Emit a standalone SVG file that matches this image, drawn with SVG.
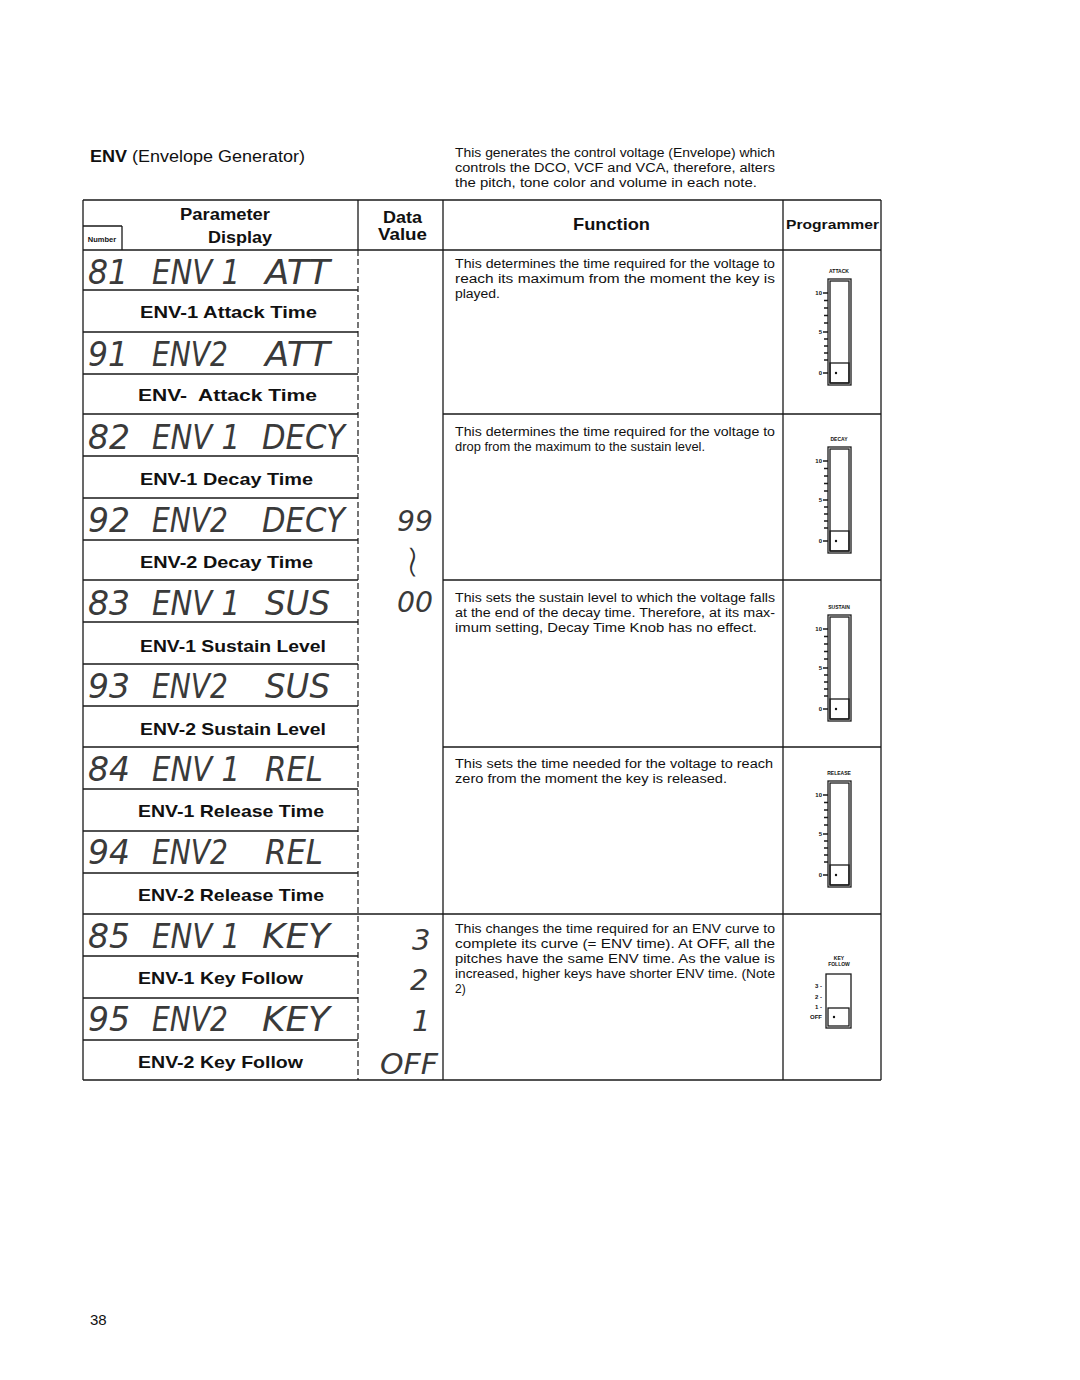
<svg xmlns="http://www.w3.org/2000/svg" width="1080" height="1380" viewBox="0 0 1080 1380">
<style>
.ln{stroke:#1a1a1a;stroke-width:1.3;fill:none}
.dash{stroke:#1a1a1a;stroke-width:1.2;stroke-dasharray:6 3;fill:none}
.hd{font-family:"Liberation Sans",Arial,sans-serif;font-weight:bold;fill:#111}
.nm{font-family:"Liberation Sans",Arial,sans-serif;font-weight:bold;font-size:17px;fill:#111}
.fn{font-family:"Liberation Sans",Arial,sans-serif;font-size:12px;fill:#111}
.seg{font-family:"DejaVu Sans",sans-serif;font-weight:200;font-style:italic;font-size:34px;fill:#3a3a3a}
.dv{font-family:"DejaVu Sans",sans-serif;font-weight:200;font-style:italic;font-size:29px;fill:#3a3a3a}
.tiny{font-family:"Liberation Sans",Arial,sans-serif;font-weight:bold;font-size:5px;fill:#111;text-anchor:middle}
.tk{font-family:"Liberation Sans",Arial,sans-serif;font-weight:bold;font-size:6px;fill:#111;text-anchor:end}
</style>
<defs>
<g id="slider">
<rect x="828" y="0" width="23" height="106" class="ln" stroke-width="2"/>
<rect x="830" y="2" width="19" height="102" class="ln" stroke-width="0.6"/>
<rect x="830" y="84" width="19" height="20" class="ln" stroke-width="1.8"/>
<circle cx="836" cy="94" r="1.2" fill="#111"/>
<path class="ln" stroke-width="0.8" d="M823 14h5M824 21.5h4M824 29h4M824 36.5h4M824 44h4M823 53h5M824 60h4M824 67h4M824 74h4M824 81h4M823 94h5"/>
<text x="822" y="16" class="tk">10</text>
<text x="822" y="55" class="tk">5</text>
<text x="822" y="96" class="tk">0</text>
</g>
</defs>
<rect width="1080" height="1380" fill="#fff"/>

<g id="title">
<text x="90" y="162" font-family="Liberation Sans,Arial,sans-serif" font-size="16" fill="#111" textLength="215" lengthAdjust="spacingAndGlyphs"><tspan font-weight="bold">ENV</tspan> (Envelope Generator)</text>
<text class="fn" font-size="11.5px"><tspan x="455" y="157" textLength="320" lengthAdjust="spacingAndGlyphs">This generates the control voltage (Envelope) which</tspan><tspan x="455" y="172" textLength="320" lengthAdjust="spacingAndGlyphs">controls the DCO, VCF and VCA, therefore, alters</tspan><tspan x="455" y="187" textLength="302" lengthAdjust="spacingAndGlyphs">the pitch, tone color and volume in each note.</tspan></text>
</g>

<g id="table-lines">
<path class="ln" d="M83 200H881M83 200V1080M443 200V1080M783 200V1080M881 200V1080M83 1080H881M83 250H881M358 200V250M83 226H122M122 226V250"/>
<path class="dash" d="M358 250V1080"/>
<path class="ln" d="M83 290H358M83 332H358M83 374H358M83 414H358M83 456H358M83 498H358M83 540H358M83 580H358M83 622H358M83 664H358M83 706H358M83 747H358M83 789H358M83 831H358M83 873H358M83 914H881M83 956H358M83 998H358M83 1040H358M443 414H881M443 580H881M443 747H881"/>
</g>

<g id="header">
<text x="180" y="220" class="hd" font-size="16" textLength="90" lengthAdjust="spacingAndGlyphs">Parameter</text>
<text x="102" y="242" class="hd" font-size="7.5" text-anchor="middle">Number</text>
<text x="208" y="243" class="hd" font-size="17" textLength="64" lengthAdjust="spacingAndGlyphs">Display</text>
<text x="383" y="223" class="hd" font-size="17" textLength="39" lengthAdjust="spacingAndGlyphs">Data</text>
<text x="378" y="240" class="hd" font-size="17" textLength="49" lengthAdjust="spacingAndGlyphs">Value</text>
<text x="573" y="230" class="hd" font-size="17" textLength="77" lengthAdjust="spacingAndGlyphs">Function</text>
<text x="786" y="229" class="hd" font-size="13.5" textLength="93" lengthAdjust="spacingAndGlyphs">Programmer</text>
</g>

<g id="param-81">
<text class="seg" x="88" y="284" textLength="40" lengthAdjust="spacingAndGlyphs">81</text>
<text class="seg" x="152" y="284" textLength="88" lengthAdjust="spacingAndGlyphs">ENV 1</text>
<text class="seg" x="265" y="284" textLength="65" lengthAdjust="spacingAndGlyphs">ATT</text>
<text x="140" y="318" class="nm" textLength="177" lengthAdjust="spacingAndGlyphs">ENV-1 Attack Time</text></g>
<g id="param-91">
<text class="seg" x="88" y="366" textLength="40" lengthAdjust="spacingAndGlyphs">91</text>
<text class="seg" x="152" y="366" textLength="76" lengthAdjust="spacingAndGlyphs">ENV2</text>
<text class="seg" x="265" y="366" textLength="65" lengthAdjust="spacingAndGlyphs">ATT</text>
<text x="138" y="401" class="nm" textLength="179" lengthAdjust="spacingAndGlyphs" xml:space="preserve">ENV-  Attack Time</text></g>
<g id="param-82">
<text class="seg" x="88" y="449" textLength="42" lengthAdjust="spacingAndGlyphs">82</text>
<text class="seg" x="152" y="449" textLength="88" lengthAdjust="spacingAndGlyphs">ENV 1</text>
<text class="seg" x="262" y="449" textLength="83" lengthAdjust="spacingAndGlyphs">DECY</text>
<text x="140" y="485" class="nm" textLength="173" lengthAdjust="spacingAndGlyphs">ENV-1 Decay Time</text></g>
<g id="param-92">
<text class="seg" x="88" y="532" textLength="42" lengthAdjust="spacingAndGlyphs">92</text>
<text class="seg" x="152" y="532" textLength="76" lengthAdjust="spacingAndGlyphs">ENV2</text>
<text class="seg" x="262" y="532" textLength="83" lengthAdjust="spacingAndGlyphs">DECY</text>
<text x="140" y="568" class="nm" textLength="173" lengthAdjust="spacingAndGlyphs">ENV-2 Decay Time</text></g>
<g id="param-83">
<text class="seg" x="88" y="615" textLength="42" lengthAdjust="spacingAndGlyphs">83</text>
<text class="seg" x="152" y="615" textLength="88" lengthAdjust="spacingAndGlyphs">ENV 1</text>
<text class="seg" x="265" y="615" textLength="65" lengthAdjust="spacingAndGlyphs">SUS</text>
<text x="140" y="652" class="nm" textLength="186" lengthAdjust="spacingAndGlyphs">ENV-1 Sustain Level</text></g>
<g id="param-93">
<text class="seg" x="88" y="698" textLength="42" lengthAdjust="spacingAndGlyphs">93</text>
<text class="seg" x="152" y="698" textLength="76" lengthAdjust="spacingAndGlyphs">ENV2</text>
<text class="seg" x="265" y="698" textLength="65" lengthAdjust="spacingAndGlyphs">SUS</text>
<text x="140" y="735" class="nm" textLength="186" lengthAdjust="spacingAndGlyphs">ENV-2 Sustain Level</text></g>
<g id="param-84">
<text class="seg" x="88" y="781" textLength="42" lengthAdjust="spacingAndGlyphs">84</text>
<text class="seg" x="152" y="781" textLength="88" lengthAdjust="spacingAndGlyphs">ENV 1</text>
<text class="seg" x="265" y="781" textLength="58" lengthAdjust="spacingAndGlyphs">REL</text>
<text x="138" y="817" class="nm" textLength="186" lengthAdjust="spacingAndGlyphs">ENV-1 Release Time</text></g>
<g id="param-94">
<text class="seg" x="88" y="864" textLength="42" lengthAdjust="spacingAndGlyphs">94</text>
<text class="seg" x="152" y="864" textLength="76" lengthAdjust="spacingAndGlyphs">ENV2</text>
<text class="seg" x="265" y="864" textLength="58" lengthAdjust="spacingAndGlyphs">REL</text>
<text x="138" y="901" class="nm" textLength="186" lengthAdjust="spacingAndGlyphs">ENV-2 Release Time</text></g>
<g id="param-85">
<text class="seg" x="88" y="948" textLength="42" lengthAdjust="spacingAndGlyphs">85</text>
<text class="seg" x="152" y="948" textLength="88" lengthAdjust="spacingAndGlyphs">ENV 1</text>
<text class="seg" x="262" y="948" textLength="68" lengthAdjust="spacingAndGlyphs">KEY</text>
<text x="138" y="984" class="nm" textLength="165" lengthAdjust="spacingAndGlyphs">ENV-1 Key Follow</text></g>
<g id="param-95">
<text class="seg" x="88" y="1031" textLength="42" lengthAdjust="spacingAndGlyphs">95</text>
<text class="seg" x="152" y="1031" textLength="76" lengthAdjust="spacingAndGlyphs">ENV2</text>
<text class="seg" x="262" y="1031" textLength="68" lengthAdjust="spacingAndGlyphs">KEY</text>
<text x="138" y="1068" class="nm" textLength="165" lengthAdjust="spacingAndGlyphs">ENV-2 Key Follow</text></g>

<g id="data-values">
<text class="dv" x="397" y="531" textLength="36" lengthAdjust="spacingAndGlyphs">99</text>
<text x="406" y="570" font-family="DejaVu Sans,sans-serif" font-size="46" font-weight="200" fill="#333" text-anchor="middle" transform="rotate(90 406 562)">~</text>
<text class="dv" x="397" y="612" textLength="36" lengthAdjust="spacingAndGlyphs">00</text>
<text class="dv" x="412" y="950">3</text>
<text class="dv" x="410" y="990">2</text>
<text class="dv" x="412" y="1031">1</text>
<text class="dv" x="380" y="1074" textLength="58" lengthAdjust="spacingAndGlyphs">OFF</text>
</g>

<g id="func-attack"><text class="fn"><tspan x="455" y="268" textLength="320" lengthAdjust="spacingAndGlyphs">This determines the time required for the voltage to</tspan><tspan x="455" y="283" textLength="320" lengthAdjust="spacingAndGlyphs">reach its maximum from the moment the key is</tspan><tspan x="455" y="298" textLength="45" lengthAdjust="spacingAndGlyphs">played.</tspan></text></g>
<g id="func-decay"><text class="fn"><tspan x="455" y="436" textLength="320" lengthAdjust="spacingAndGlyphs">This determines the time required for the voltage to</tspan><tspan x="455" y="451" textLength="250" lengthAdjust="spacingAndGlyphs">drop from the maximum to the sustain level.</tspan></text></g>
<g id="func-sustain"><text class="fn"><tspan x="455" y="602" textLength="320" lengthAdjust="spacingAndGlyphs">This sets the sustain level to which the voltage falls</tspan><tspan x="455" y="617" textLength="320" lengthAdjust="spacingAndGlyphs">at the end of the decay time. Therefore, at its max-</tspan><tspan x="455" y="632" textLength="302" lengthAdjust="spacingAndGlyphs">imum setting, Decay Time Knob has no effect.</tspan></text></g>
<g id="func-release"><text class="fn"><tspan x="455" y="768" textLength="318" lengthAdjust="spacingAndGlyphs">This sets the time needed for the voltage to reach</tspan><tspan x="455" y="783" textLength="272" lengthAdjust="spacingAndGlyphs">zero from the moment the key is released.</tspan></text></g>
<g id="func-key"><text class="fn"><tspan x="455" y="933" textLength="320" lengthAdjust="spacingAndGlyphs">This changes the time required for an ENV curve to</tspan><tspan x="455" y="948" textLength="320" lengthAdjust="spacingAndGlyphs">complete its curve (= ENV time). At OFF, all the</tspan><tspan x="455" y="963" textLength="320" lengthAdjust="spacingAndGlyphs">pitches have the same ENV time. As the value is</tspan><tspan x="455" y="978" textLength="320" lengthAdjust="spacingAndGlyphs">increased, higher keys have shorter ENV time. (Note</tspan><tspan x="455" y="993">2)</tspan></text></g>

<g id="prog-attack"><text x="839" y="273" class="tiny">ATTACK</text><use href="#slider" transform="translate(0 279)"/></g>
<g id="prog-decay"><text x="839" y="441" class="tiny">DECAY</text><use href="#slider" transform="translate(0 447)"/></g>
<g id="prog-sustain"><text x="839" y="609" class="tiny">SUSTAIN</text><use href="#slider" transform="translate(0 615)"/></g>
<g id="prog-release"><text x="839" y="775" class="tiny">RELEASE</text><use href="#slider" transform="translate(0 781)"/></g>
<g id="prog-key">
<text x="839" y="960" class="tiny">KEY</text><text x="839" y="966" class="tiny">FOLLOW</text>
<rect x="826" y="974" width="25" height="54" class="ln" stroke-width="2"/>
<rect x="828" y="1008" width="21" height="18" class="ln" stroke-width="1.8"/>
<circle cx="834" cy="1017" r="1.2" fill="#111"/>
<text x="822" y="988" class="tk">3 -</text>
<text x="822" y="999" class="tk">2 -</text>
<text x="822" y="1009" class="tk">1 -</text>
<text x="822" y="1019" class="tk">OFF</text>
</g>

<text x="90" y="1325" font-family="Liberation Sans,Arial,sans-serif" font-size="15" fill="#111">38</text>
</svg>
